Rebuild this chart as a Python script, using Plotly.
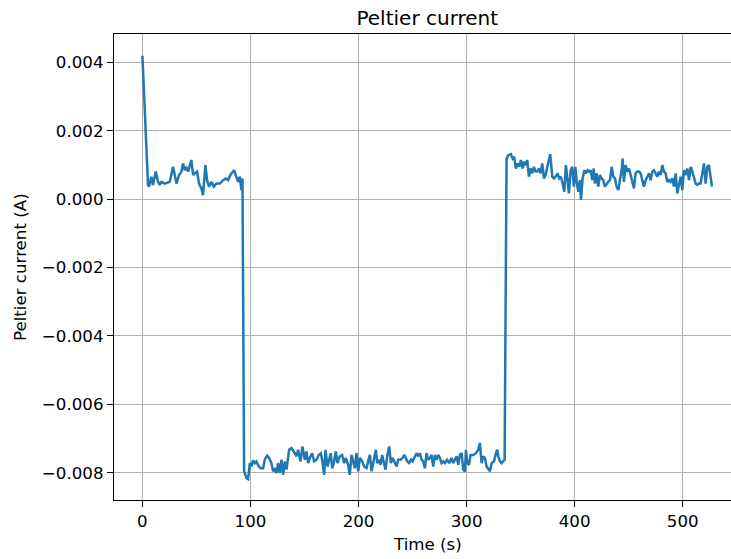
import plotly.graph_objects as go

# Time (s)
time_s = [
    0, 5.2, 6.1, 8.3, 9.8, 12.3, 14.5, 16.0, 17.6, 20.6, 25.3, 28.4, 29.9, 31.5, 33.9, 36.1,
    37.6, 39.2, 40.7, 42.3, 45.3, 46.9, 48.4, 50.6, 52.4, 54.6, 56.1, 58.3, 59.8, 61.7, 63.9,
    66.0, 68.5, 71.6, 74.7, 77.1, 79.3, 81.4, 84.8, 87.0, 88.5, 90.1, 91.6, 92.6,
    94.1, 96.3, 97.8, 99.4, 100.9, 102.4, 104.0, 105.5, 107.7, 109.5, 111.7, 113.2, 115.4,
    117.2, 119.4, 121.0, 122.5, 124.0, 125.6, 127.1, 128.7, 130.2, 131.8, 133.3, 134.8, 135.8,
    137.9, 139.5, 141.0, 142.6, 144.1, 146.3, 148.1, 150.3, 151.8, 153.4, 154.9, 157.1, 158.9,
    161.1, 163.2, 165.1, 166.3, 168.2, 169.4, 171.3, 172.5, 174.3, 175.6, 177.1, 179.0, 180.5,
    182.7, 184.8, 186.7, 188.2, 190.4, 191.9, 193.5, 195.0, 196.6, 198.1, 199.7, 201.2, 203.4,
    205.2, 207.4, 208.9,
    210.5, 212.0, 214.2, 216.1, 217.3, 218.8, 220.4, 221.9, 223.5, 225.0, 226.5, 228.4, 229.9,
    231.5, 233.0, 235.2, 236.7, 238.9, 240.7, 242.3, 243.8, 245.1, 246.9, 248.5, 250.0, 251.5,
    253.7, 255.3, 256.8, 258.3, 259.9, 261.4, 263.0, 264.5, 266.1, 267.6, 269.1, 270.7, 272.2,
    273.8, 275.3, 276.9, 278.4, 279.9, 282.1, 284.0, 286.1, 287.7, 289.2, 290.7, 292.3, 293.8,
    295.4, 296.9, 298.5, 299.4, 300.6, 302.2, 303.7, 306.2, 308.6, 310.8, 312.3, 313.9, 315.4,
    317.0, 318.5, 320.1, 321.6, 323.2, 325.3, 327.2, 328.4, 329.3, 330.9, 332.4, 334.0, 335.2,
    337.0, 338.5, 341.0, 342.6, 344.1, 345.6, 347.2, 348.7, 350.3, 351.8, 353.4, 354.9, 356.1,
    357.7, 359.2, 360.8, 362.3, 363.9, 365.4, 366.9, 368.5, 370.0, 371.6, 373.1, 374.7, 376.2,
    377.4, 379.3, 380.8, 382.4, 384.2, 385.8, 387.3, 388.9, 390.4, 391.9, 393.5, 394.7, 396.3,
    397.8, 399.3, 400.6, 402.1, 403.4, 404.9, 405.8, 407.4, 408.9, 410.5, 412.0, 413.5, 414.8,
    416.3, 417.6, 418.8, 420.3, 421.9, 423.4, 425.0, 426.5, 428.0, 429.6, 431.1, 432.7, 434.2,
    435.8,
    437.3, 438.8, 440.4, 441.9, 443.5, 444.4, 445.6, 447.2, 448.7, 450.3, 451.8, 453.3, 454.9,
    456.4, 458.0, 459.5, 461.1, 462.6, 464.1, 465.7, 467.2, 468.8, 470.3, 471.9, 473.4, 474.9,
    476.5, 478.0, 479.6, 481.1, 482.7, 484.2, 485.7, 487.3, 488.8, 490.4, 491.9, 493.5, 495.0,
    496.5, 498.1, 499.6, 501.2, 502.7, 504.3, 505.8, 507.4, 508.9, 510.4, 512.0, 513.5, 515.1,
    516.6, 518.2, 519.7, 521.2, 522.8, 524.3, 525.9, 527.1,
]

# Peltier current (A)
current_a = [
    0.00420, 0.00041, 0.00037, 0.00066, 0.00042, 0.00081, 0.00051, 0.00042, 0.00051, 0.00046,
    0.00051, 0.00095, 0.00071, 0.00046, 0.00071, 0.00081, 0.00105, 0.00085, 0.00095, 0.00081,
    0.00115, 0.00071, 0.00076, 0.00081, 0.00046, 0.00032, 0.00012, 0.00100, 0.00056, 0.00037,
    0.00051, 0.00037, 0.00046, 0.00046, 0.00056, 0.00061, 0.00056, 0.00071, 0.00085, 0.00066,
    0.00051, 0.00066, 0.00027, 0.00061,
    -0.00796, -0.00816, -0.00819, -0.00772, -0.00782, -0.00764, -0.00772, -0.00767, -0.00782,
    -0.00787, -0.00787, -0.00762, -0.00750, -0.00757, -0.00772, -0.00796, -0.00787, -0.00801,
    -0.00772, -0.00801, -0.00762, -0.00806, -0.00767, -0.00791, -0.00757, -0.00733, -0.00728,
    -0.00738, -0.00743, -0.00752, -0.00733, -0.00767, -0.00723, -0.00762, -0.00738, -0.00772,
    -0.00757, -0.00743, -0.00767, -0.00762, -0.00748, -0.00743, -0.00762, -0.00806, -0.00733,
    -0.00782, -0.00767, -0.00743, -0.00787, -0.00772, -0.00738, -0.00772, -0.00752, -0.00748,
    -0.00772, -0.00757, -0.00777, -0.00806, -0.00748, -0.00772, -0.00787, -0.00743, -0.00796,
    -0.00757, -0.00767, -0.00782, -0.00787, -0.00767,
    -0.00748, -0.00796, -0.00757, -0.00733, -0.00772, -0.00762, -0.00777, -0.00748, -0.00772,
    -0.00791, -0.00752, -0.00723, -0.00772, -0.00757, -0.00767, -0.00782, -0.00762, -0.00762,
    -0.00757, -0.00748, -0.00757, -0.00767, -0.00772, -0.00762, -0.00767, -0.00757, -0.00743,
    -0.00752, -0.00743, -0.00762, -0.00767, -0.00787, -0.00743, -0.00762, -0.00757, -0.00748,
    -0.00782, -0.00748, -0.00762, -0.00748, -0.00757, -0.00772, -0.00767, -0.00772, -0.00762,
    -0.00772, -0.00757, -0.00772, -0.00762, -0.00752, -0.00777, -0.00748, -0.00743, -0.00791,
    -0.00796, -0.00733, -0.00772, -0.00777, -0.00748, -0.00748, -0.00743, -0.00733, -0.00713,
    -0.00772, -0.00752, -0.00757, -0.00782, -0.00791, -0.00796, -0.00772, -0.00767, -0.00743,
    -0.00733, -0.00752, -0.00767, -0.00772, -0.00767, -0.00762,
    0.00119, 0.00129, 0.00132, 0.00119, 0.00124, 0.00090, 0.00105, 0.00095, 0.00115, 0.00090,
    0.00110, 0.00100, 0.00115, 0.00066, 0.00090, 0.00076, 0.00095, 0.00081, 0.00081, 0.00090,
    0.00076, 0.00105, 0.00061, 0.00071, 0.00095, 0.00119, 0.00132, 0.00066, 0.00061, 0.00066,
    0.00076, 0.00061, 0.00066, 0.00046, 0.00022, 0.00100, 0.00037, 0.00017, 0.00085, 0.00095,
    0.00037, 0.00095, 0.00046, 0.00022, 0.00056, -0.00002, 0.00061, 0.00085, 0.00076, 0.00085,
    0.00081, 0.00085, 0.00056, 0.00090, 0.00046, 0.00076, 0.00037, 0.00071, 0.00061, 0.00056,
    0.00037, 0.00046, 0.00051, 0.00056, 0.00095, 0.00066,
    0.00061, 0.00037, 0.00027, 0.00056, 0.00085, 0.00119, 0.00051, 0.00100, 0.00081, 0.00090,
    0.00071, 0.00046, 0.00032, 0.00076, 0.00081, 0.00081, 0.00076, 0.00056, 0.00037, 0.00056,
    0.00066, 0.00076, 0.00056, 0.00081, 0.00085, 0.00076, 0.00066, 0.00081, 0.00071, 0.00100,
    0.00081, 0.00076, 0.00051, 0.00056, 0.00051, 0.00061, 0.00037, 0.00076, 0.00017, 0.00042,
    0.00066, 0.00027, 0.00085, 0.00071, 0.00090, 0.00056, 0.00095, 0.00081, 0.00061, 0.00046,
    0.00042, 0.00046, 0.00046, 0.00085, 0.00105, 0.00046, 0.00095, 0.00100, 0.00066, 0.00037,
]

x_ticks = [0, 100, 200, 300, 400, 500]
x_tick_labels = ["0", "100", "200", "300", "400", "500"]
y_ticks = [0.004, 0.002, 0.0, -0.002, -0.004, -0.006, -0.008]
y_tick_labels = ["0.004", "0.002", "0.000", "\u22120.002", "\u22120.004", "\u22120.006", "\u22120.008"]

title_text = "Peltier current"
x_label = "Time (s)"
y_label = "Peltier current (A)"

FONT = "DejaVu Sans"

fig = go.Figure()
fig.add_trace(go.Scatter(
    x=time_s, y=current_a, mode="lines",
    line=dict(color="#1f77b4", width=2.5),
    showlegend=False, hoverinfo="skip",
))

fig.update_layout(
    width=731, height=559,
    margin=dict(l=114, r=0, t=34, b=59, pad=0),
    paper_bgcolor="white", plot_bgcolor="white",
    font=dict(family=FONT, size=16.67, color="black"),
    title=dict(text=title_text, x=427.3 / 731, xref="container", xanchor="center",
               y=1 - 17.5 / 559, yref="container", yanchor="middle",
               font=dict(family=FONT, size=20, color="black")),
    xaxis=dict(
        range=[-26.3, 544.7], tickvals=x_ticks, ticktext=x_tick_labels,
        showgrid=True, gridcolor="#b0b0b0", gridwidth=1.33,
        showline=True, linecolor="black", linewidth=1.33, mirror=True,
        ticks="outside", ticklen=6, tickwidth=1.33, tickcolor="black",
        zeroline=False, tickfont=dict(family=FONT, size=16.67, color="black"),
    ),
    yaxis=dict(
        range=[-0.008799, 0.004836], tickvals=y_ticks, ticktext=y_tick_labels,
        showgrid=True, gridcolor="#b0b0b0", gridwidth=1.33,
        showline=True, linecolor="black", linewidth=1.33, mirror=False,
        ticks="outside", ticklen=6, tickwidth=1.33, tickcolor="black",
        zeroline=False, tickfont=dict(family=FONT, size=16.67, color="black"),
    ),
    annotations=[
        dict(text=x_label, xref="paper", yref="paper",
             x=(427.3 - 114) / 617, y=(500.3 - 545) / 466.6,
             xanchor="center", yanchor="middle", showarrow=False,
             font=dict(family=FONT, size=16.67, color="black")),
        dict(text=y_label, xref="paper", yref="paper",
             x=(20 - 114) / 617, y=0.5, textangle=-90,
             xanchor="center", yanchor="middle", showarrow=False,
             font=dict(family=FONT, size=16.67, color="black")),
    ],
)

fig.write_html(
    "out.html",
    config={"displayModeBar": False},
    post_script="document.body.style.margin='0';document.body.style.overflow='hidden';",
)
